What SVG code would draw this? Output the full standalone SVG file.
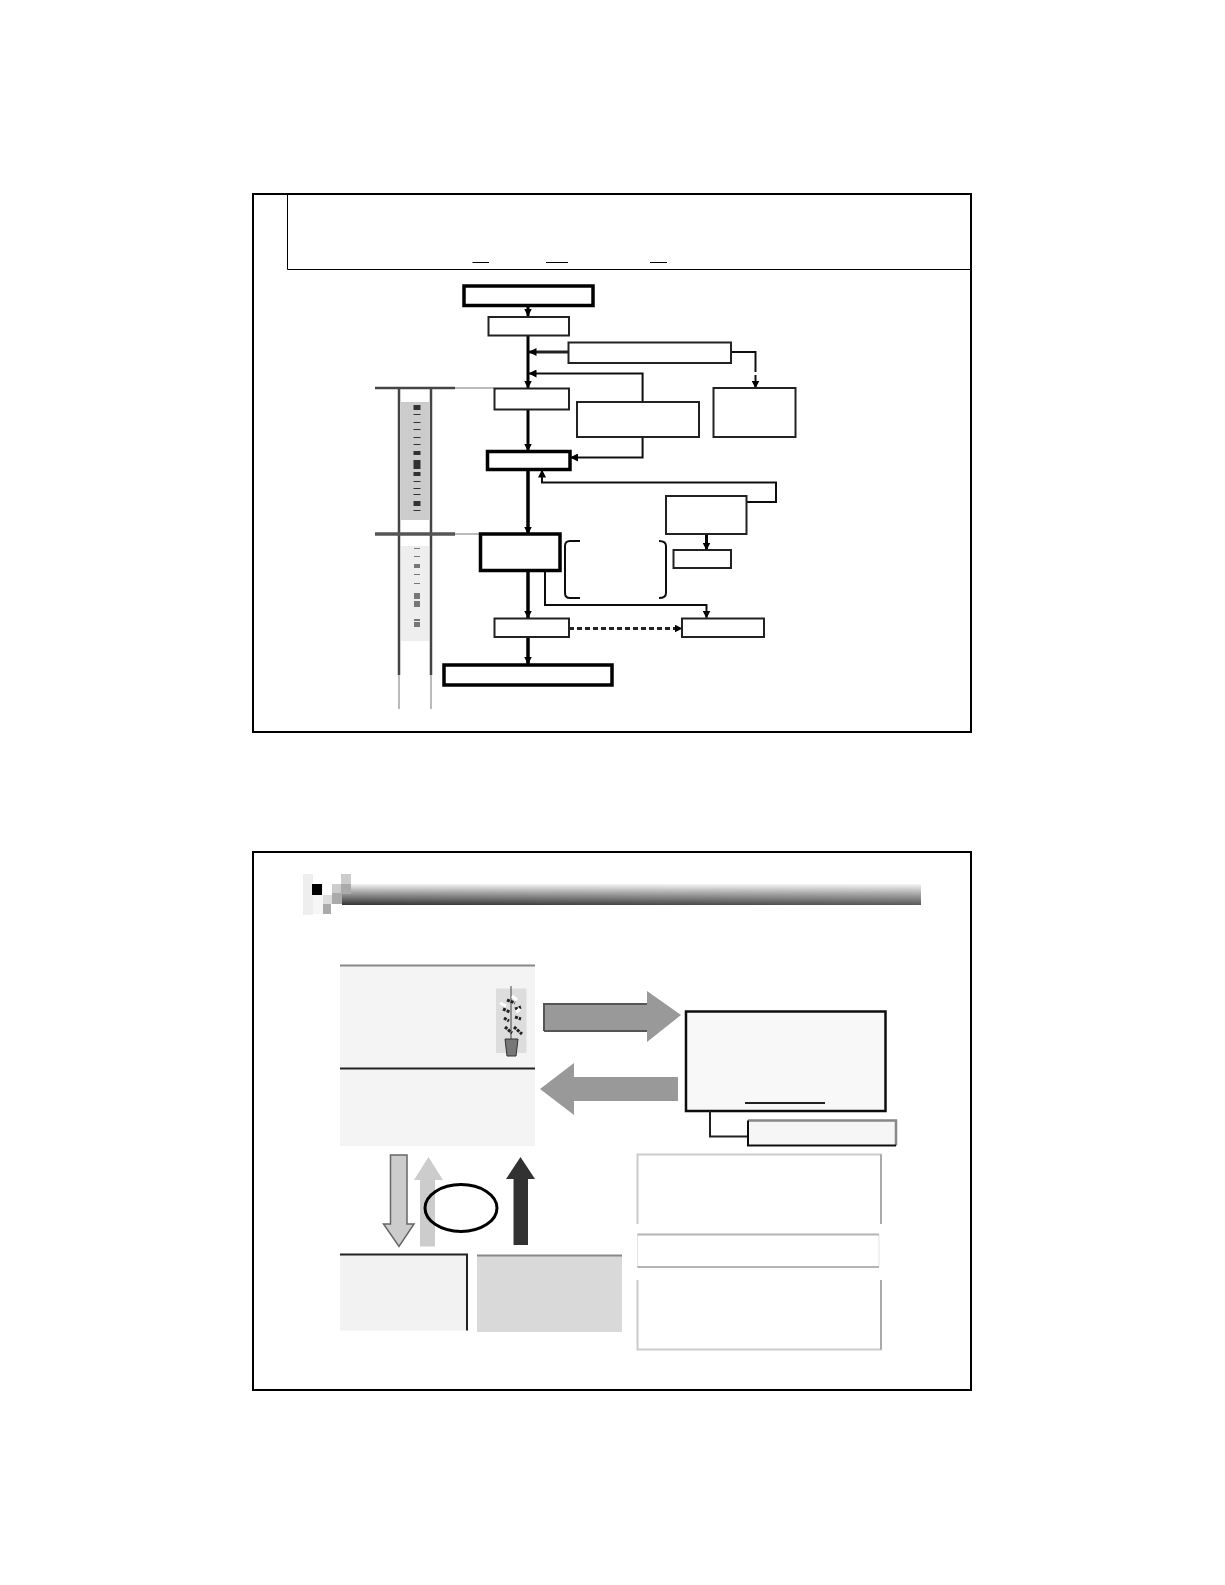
<svg xmlns="http://www.w3.org/2000/svg" width="1225" height="1585" viewBox="0 0 1225 1585">
<style>
.frame{fill:none;stroke:#000;stroke-width:2}
.thick{fill:#fff;stroke:#000;stroke-width:3.500}
.box{fill:#fff;stroke:#222;stroke-width:2}
.c{fill:none;stroke:#111;stroke-width:2}
.m{fill:none;stroke:#000;stroke-width:3}
.ln{fill:none;stroke:#444;stroke-width:2.500}
.l2{fill:none;stroke:#bbb;stroke-width:2}
</style>
<defs>
<filter id="soft" x="-5%" y="-5%" width="110%" height="110%"><feGaussianBlur stdDeviation="0.5"/></filter>
<linearGradient id="bar" x1="0" y1="0" x2="0" y2="1"><stop offset="0" stop-color="#f4f4f4"/><stop offset="0.45" stop-color="#999"/><stop offset="1" stop-color="#333"/></linearGradient>
<linearGradient id="barFade" x1="0" y1="0" x2="1" y2="0"><stop offset="0" stop-color="#fff" stop-opacity="0"/><stop offset="1" stop-color="#fff" stop-opacity="0.18"/></linearGradient>
<marker id="a" viewBox="0 0 8 8" refX="7.500" refY="4" markerWidth="8" markerHeight="8" orient="auto" markerUnits="userSpaceOnUse"><path d="M0 0L8 4L0 8Z" fill="#000"/></marker>
</defs>
<rect width="1225" height="1585" fill="#fff"/>

<rect class="frame" x="253" y="194" width="718" height="538"/>
<rect class="frame" x="253" y="852" width="718" height="538"/>

<g id="slide1-title">
<path d="M287.500 194V269.500H971" fill="none" stroke="#000" stroke-width="1"/>
<path d="M472.500 262.500H489M546 262.500H568M650 262.500H667" fill="none" stroke="#000" stroke-width="1"/>
</g>

<g filter="url(#soft)">
<g id="lanes">
<rect x="401" y="402" width="28" height="118" fill="#ccc"/>
<rect x="401" y="546" width="28" height="95" fill="#eee"/>
<path d="M417 405V512" fill="none" stroke="#333" stroke-width="7" stroke-dasharray="5 4 1 7 1 6 1 7 1 6 1 6 4 5 9 3 4 5 1 6 1 5 1 6"/>
<path d="M417 548V627" fill="none" stroke="#777" stroke-width="6" stroke-dasharray="1 7 1 7 4 6 1 8 1 9 6 2 6 12 2"/>
<path class="ln" d="M399 388V675M431 388V675"/>
<path class="l2" d="M399 675V709M431 675V709"/>
<path class="ln" d="M375 388H455"/>
<path d="M375 534H455" fill="none" stroke="#555" stroke-width="3.500"/>
<path class="l2" d="M455 388H494M455 534H480"/>
</g>

<g id="connectors">
<path class="m" marker-end="url(#a)" d="M528 306V316"/>
<path class="m" marker-end="url(#a)" d="M528 336V388"/>
<path class="m" d="M528 409V451" marker-end="url(#a)"/>
<path d="M528 470V534" fill="none" stroke="#000" stroke-width="3.500" marker-end="url(#a)"/>
<path d="M528 571V618" fill="none" stroke="#000" stroke-width="3.500" marker-end="url(#a)"/>
<path d="M528 637V664" fill="none" stroke="#000" stroke-width="3.500" marker-end="url(#a)"/>
<path d="M568.500 352H529" fill="none" stroke="#222" stroke-width="3" marker-end="url(#a)"/>
<path class="c" d="M731 352H755.500V366"/>
<path class="c" stroke-dasharray="6 3" d="M755.500 366V388" marker-end="url(#a)"/>
<path class="c" d="M642.600 402V373.500H529" marker-end="url(#a)"/>
<path class="c" d="M642.600 437V457.500H570.500" marker-end="url(#a)"/>
<path class="c" d="M746.500 502H776V482.500H542V470" marker-end="url(#a)"/>
<path d="M706.500 534V550" fill="none" stroke="#000" stroke-width="3" marker-end="url(#a)"/>
<path class="c" d="M545 571V605H706.500V618" marker-end="url(#a)"/>
<path d="M569 628.500H682" fill="none" stroke="#222" stroke-width="3" stroke-dasharray="5 3" marker-end="url(#a)"/>
<path class="c" d="M580 541H570Q565 541 565 546V593Q565 598 570 598H580"/>
<path class="c" d="M659 541Q666 541 666 546V593Q666 598 659 598"/>
</g>

<g id="n1"><rect class="thick" x="464" y="286" width="129" height="19.500"/></g>
<g id="n2"><rect class="box" x="488.500" y="317" width="80.500" height="18.500"/></g>
<g id="n3"><rect class="box" x="568.500" y="342.500" width="162.500" height="20.500"/></g>
<g id="n4"><rect class="box" x="494.500" y="388.500" width="74.500" height="21"/></g>
<g id="n5"><rect class="box" x="577" y="402" width="122" height="35"/></g>
<g id="n6"><rect class="box" x="713.500" y="388" width="82" height="49"/></g>
<g id="n7"><rect class="thick" x="487.500" y="451.500" width="82.500" height="18"/></g>
<g id="n8"><rect class="box" x="666" y="496" width="80.500" height="38"/></g>
<g id="n9"><rect class="box" x="673.500" y="550" width="57.500" height="18"/></g>
<g id="n10"><rect class="thick" x="480.500" y="534" width="79.500" height="36.500"/></g>
<g id="n11"><rect class="box" x="494.500" y="618.500" width="74.500" height="18.500"/></g>
<g id="n12"><rect class="box" x="682" y="618.500" width="82" height="18.500"/></g>
<g id="n13"><rect class="thick" x="444" y="665" width="168" height="20"/></g>

<g id="header">
<rect x="303" y="874" width="10" height="41" fill="#eee"/>
<rect x="313" y="884" width="10" height="30" fill="#f6f6f6"/>
<rect x="342" y="884" width="579" height="21" fill="url(#bar)"/>
<rect x="342" y="884" width="579" height="21" fill="url(#barFade)"/>
<rect x="312" y="884" width="10" height="11" fill="#000"/>
<rect x="341" y="874" width="10" height="10" fill="#ccc"/>
<rect x="332" y="884" width="9" height="9" fill="#ccc"/>
<rect x="341" y="884" width="10" height="10" fill="#aaa"/>
<rect x="323" y="895" width="9" height="9" fill="#ddd"/>
<rect x="332" y="893" width="10" height="11" fill="#aaa"/>
<rect x="323" y="904" width="8" height="10" fill="#aaa"/>
</g>

<g id="box-a">
<rect x="340" y="965" width="195" height="181" fill="#f4f4f4"/>
<path d="M340 965.500H535" stroke="#888" stroke-width="2" fill="none"/>
<path d="M340 1068.500H535" stroke="#222" stroke-width="2" fill="none"/>
</g>
<g id="plant">
<rect x="496" y="988.500" width="30.500" height="64.500" fill="#ddd"/>
<path d="M511 986V1040" stroke="#444" stroke-width="1" fill="none"/>
<path d="M507 1000l8 3M503 1009l7 3M515 1009l6-2M504 1018l5 3M515 1017l6 2M505 1027l7 6M514 1027l8 7" stroke="#222" stroke-width="3" fill="none" stroke-dasharray="3 1"/>
<path d="M500 1003l6 3M512 996l5 4M516 1012l4-3" stroke="#fff" stroke-width="3" fill="none"/>
<path d="M505 1039H518L516 1056H507Z" fill="#777" stroke="#333" stroke-width="1"/>
</g>
<g id="arrow-right"><path d="M544 1004H647V991L681 1015L647 1042V1031H544Z" fill="#999"/><path d="M544 1031V1004H647M544 1031H647" fill="none" stroke="#555" stroke-width="2"/></g>
<g id="arrow-left"><path d="M540 1089L574 1063V1077H678V1101H574V1115Z" fill="#999"/></g>
<g id="box-b">
<rect x="686" y="1011.500" width="199.500" height="99.500" fill="#f8f8f8" stroke="#111" stroke-width="2.500"/>
<path d="M745 1103H825" stroke="#222" stroke-width="2" fill="none"/>
</g>
<g id="box-c">
<path d="M710 1111V1136.500H748" fill="none" stroke="#222" stroke-width="2"/>
<rect x="748" y="1120.500" width="148" height="25" fill="#f6f6f6"/>
<path d="M748 1120.500H896V1145.500" fill="none" stroke="#888" stroke-width="2.500"/>
<path d="M748 1120.500V1145.500H896" fill="none" stroke="#111" stroke-width="2"/>
</g>
<g id="arrow-down"><path d="M390.500 1155H407V1224H414L399 1246.500L383.500 1224H390.500Z" fill="#ccc" stroke="#666" stroke-width="1.500"/></g>
<g id="arrow-up-light"><path d="M420 1246.500V1180H414L428.500 1157L443 1180H435V1246.500Z" fill="#ccc"/></g>
<g id="arrow-up-dark"><path d="M513.500 1245V1179H506L520.500 1157L535 1179H528V1245Z" fill="#333"/></g>
<g id="ellipse"><ellipse cx="461" cy="1208" rx="36" ry="23.500" fill="none" stroke="#000" stroke-width="3"/></g>
<g id="box-d">
<rect x="340" y="1254" width="127" height="76.500" fill="#f2f2f2"/>
<path d="M340 1254.500H467V1330.500" fill="none" stroke="#222" stroke-width="2"/>
</g>
<g id="box-e">
<rect x="477" y="1255" width="145" height="77" fill="#d9d9d9"/>
<path d="M477 1255.500H622" fill="none" stroke="#888" stroke-width="2"/>
</g>
<g id="box-f"><path d="M637.500 1224V1154.500H881V1224" fill="#fff" stroke="#ccc" stroke-width="2"/><path d="M881 1154.500V1224" stroke="#aaa" stroke-width="2" fill="none"/></g>
<g id="box-g"><rect x="637.500" y="1234.500" width="241.500" height="32.500" fill="#fff" stroke="#e4e4e4" stroke-width="1"/><path d="M637.500 1234.500H879M637.500 1267H879" stroke="#b4b4b4" stroke-width="2" fill="none"/></g>
<g id="box-h"><path d="M637.500 1280V1349.500H881V1280" fill="#fff" stroke="#ccc" stroke-width="2"/><path d="M881 1280V1349.500" stroke="#aaa" stroke-width="2" fill="none"/></g>
</g>
</svg>
